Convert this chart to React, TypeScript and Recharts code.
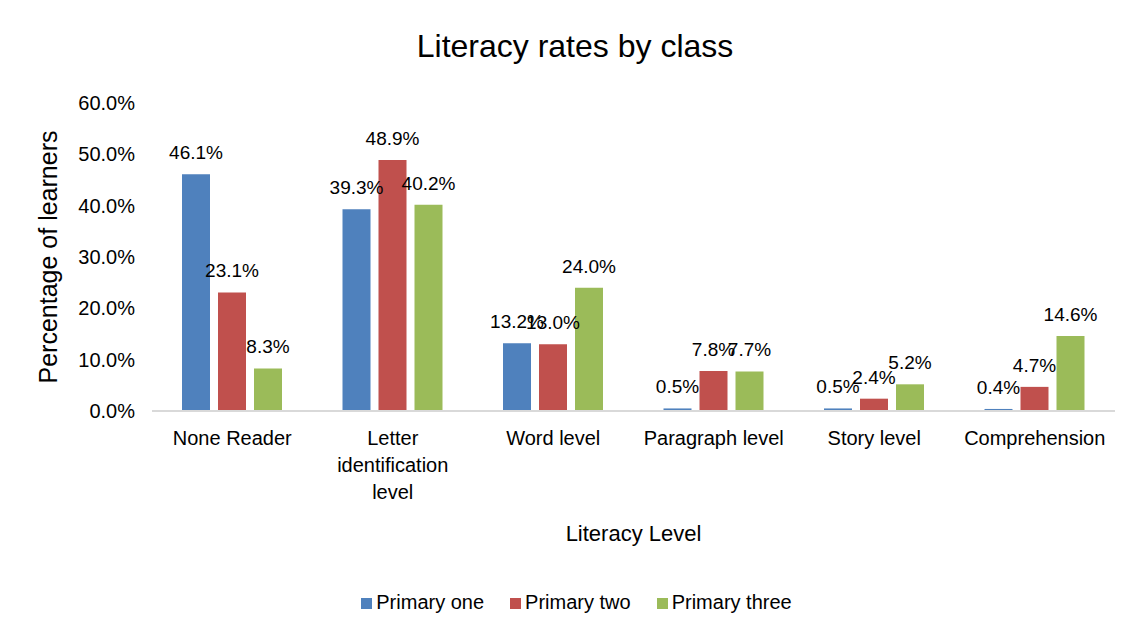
import React from 'react';
import { BarChart, Bar, XAxis, YAxis, Legend, LabelList } from 'recharts';

const categories = [
  'None Reader',
  'Letter\nidentification\nlevel',
  'Word level',
  'Paragraph level',
  'Story level',
  'Comprehension',
];
const primaryOne = [46.1, 39.3, 13.2, 0.5, 0.5, 0.4];
const primaryTwo = [23.1, 48.9, 13.0, 7.8, 2.4, 4.7];
const primaryThree = [8.3, 40.2, 24.0, 7.7, 5.2, 14.6];
const yTicks = [0, 10, 20, 30, 40, 50, 60];

const FONT = '"Liberation Sans", Arial, Helvetica, sans-serif';

const data = categories.map((name, i) => ({
  name,
  p1: primaryOne[i],
  p2: primaryTwo[i],
  p3: primaryThree[i],
}));

const pct = (v: any) => `${Number(v).toFixed(1)}%`;

// splits multi-line category names into stacked lines
const CategoryTick = (props: any) => {
  const { x, y, payload } = props;
  const lines = String(payload.value).split('\n');
  return (
    <text x={x} y={y} textAnchor="middle" fontSize={20} fill="#000" fontFamily={FONT}>
      {lines.map((line, i) => (
        <tspan key={i} x={x} dy={i === 0 ? '0.71em' : 27}>
          {line}
        </tspan>
      ))}
    </text>
  );
};

const YTitle = (props: any) => {
  const { viewBox } = props;
  const cy = viewBox.y + viewBox.height / 2;
  return (
    <text
      x={48}
      y={cy}
      transform={`rotate(-90, 48, ${cy})`}
      textAnchor="middle"
      dominantBaseline="central"
      fontSize={25}
      fill="#000"
      fontFamily={FONT}
    >
      Percentage of learners
    </text>
  );
};

const labelStyle = { fontSize: 19, fill: '#000', fontFamily: FONT };

const App = () => {
  return (
    <div style={{ position: 'absolute', left: 0, top: 0, width: 1130, height: 633, background: '#fff', fontFamily: FONT }}>
      <div style={{ position: 'absolute', left: 0, width: 1150, top: 28, textAlign: 'center', fontSize: 32, color: '#000' }}>
        Literacy rates by class
      </div>
      <div style={{ position: 'absolute', left: 152, width: 963, top: 521, textAlign: 'center', fontSize: 22, color: '#000' }}>
        Literacy Level
      </div>
      <BarChart
        width={1130}
        height={633}
        data={data}
        margin={{ top: 103, right: 15, left: 0, bottom: 19 }}
        barGap={8}
        barSize={28}
      >
        <XAxis
          dataKey="name"
          axisLine={{ stroke: '#D9D9D9', strokeWidth: 2 }}
          tickLine={false}
          tick={<CategoryTick />}
          tickMargin={14}
          interval={0}
          height={180}
        />
        <YAxis
          width={152}
          domain={[0, 60]}
          ticks={yTicks}
          tickFormatter={pct}
          axisLine={false}
          tickLine={false}
          tickMargin={11}
          tick={{ fontSize: 20, fill: '#000', fontFamily: FONT }}
          label={<YTitle />}
        />
        <Legend
          verticalAlign="bottom"
          align="center"
          iconType="square"
          iconSize={11}
          itemSorter="dataKey"
          wrapperStyle={{ fontSize: 20, color: '#000', fontFamily: FONT, paddingLeft: 32 }}
          formatter={(value: string) => <span style={{ color: '#000', marginRight: 16 }}>{value}</span>}
        />
        <Bar dataKey="p1" name="Primary one" fill="#4F81BD" isAnimationActive={false}>
          <LabelList dataKey="p1" position="top" offset={15} formatter={pct} style={labelStyle} />
        </Bar>
        <Bar dataKey="p2" name="Primary two" fill="#C0504D" isAnimationActive={false}>
          <LabelList dataKey="p2" position="top" offset={15} formatter={pct} style={labelStyle} />
        </Bar>
        <Bar dataKey="p3" name="Primary three" fill="#9BBB59" isAnimationActive={false}>
          <LabelList dataKey="p3" position="top" offset={15} formatter={pct} style={labelStyle} />
        </Bar>
      </BarChart>
    </div>
  );
};

export default App;
